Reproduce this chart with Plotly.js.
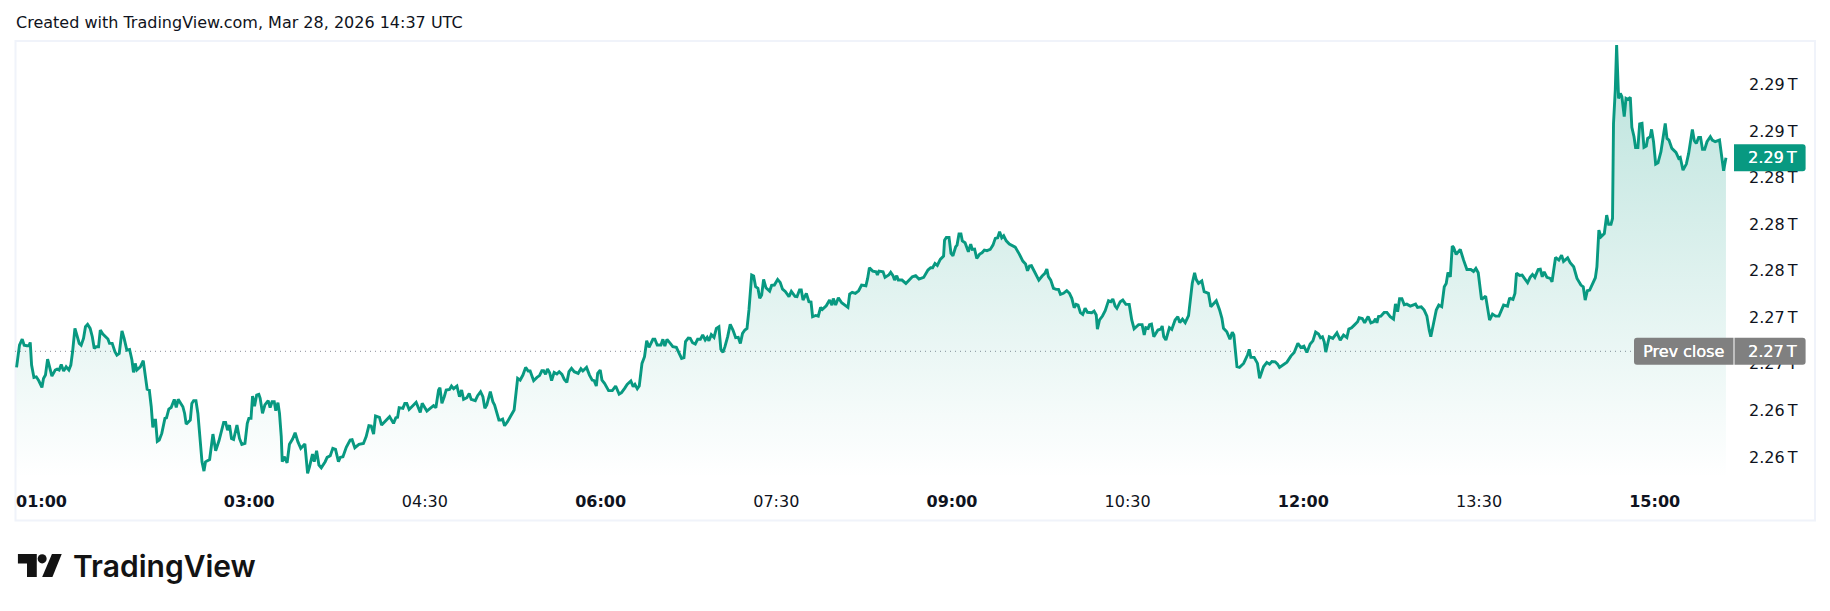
<!DOCTYPE html>
<html>
<head>
<meta charset="utf-8">
<script src="https://cdn.plot.ly/plotly-3.0.1.min.js"></script>
<style>html,body{margin:0;padding:0;background:#fff}#c{width:1830px;height:611px}</style>
</head>
<body>
<div id="c"></div>
<script>
// Minutes since midnight
const minutes = [
60.8,61.6,62.3,63.7,64.7,66.1,67.1,67.8,68.5,69.7,70.9,72.2,73.8,74.6,75.6,76.7,77.7,78.9,80.6,81.6,82.6,83.7,84.9,86.2,87.6,88.6,89.5,90.7,91.7,92.9,93.9,95.1,96.1,97.2,98.5,99.6,100.6,101.6,102.8,103.7,105.0,106.4,107.6,108.4,109.8,111.2,112.2,113.4,114.8,115.9,117.3,118.7,119.9,120.7,121.6,122.4,124.2,125.7,126.9,127.7,128.8,129.8,130.6,131.3,132.0,132.9,133.9,135.2,136.8,137.6,138.8,140.0,141.6,142.6,143.6,145.0,146.0,146.9,147.7,149.8,150.6,151.5,152.7,153.7,154.9,155.8,156.8,157.6,159.7,161.4,162.8,164.5,166.9,167.9,168.9,169.9,170.9,172.0,173.7,175.0,176.2,177.8,179.0,179.8,180.9,181.7,182.7,183.8,184.9,
185.6,186.8,188.0,189.7,190.7,191.7,192.8,193.6,194.7,195.5,196.4,196.9,197.9,199.4,200.6,202.2,203.5,204.9,206.4,208.5,209.9,210.9,212.4,213.3,214.5,215.7,216.9,218.9,219.9,221.5,222.8,224.2,225.7,226.6,228.0,229.7,231.7,232.7,234.1,236.2,238.5,239.9,241.3,242.5,243.7,244.7,246.7,247.8,249.8,251.9,253.9,255.1,256.0,256.8,258.7,259.7,260.7,261.9,263.8,265.5,267.6,268.6,271.0,273.0,274.4,275.6,277.0,277.7,278.7,279.9,280.9,282.6,283.6,284.7,286.4,287.7,288.8,289.8,291.5,292.7,293.7,295.8,297.0,298.5,299.7,300.7,301.7,303.5,304.8,305.7,307.0,307.9,308.9,309.8,310.8,312.3,
315.7,317.5,318.8,320.2,321.6,322.9,323.9,325.7,327.4,328.7,329.9,330.8,331.8,332.8,333.9,334.9,336.2,337.6,338.8,340.2,341.4,342.7,343.8,345.1,346.5,348.5,349.9,350.9,352.8,354.3,355.7,356.7,357.8,358.5,359.8,360.7,362.0,364.1,366.0,367.7,369.5,370.7,372.3,373.6,375.5,376.7,377.6,378.8,379.8,381.2,382.5,383.6,384.8,386.8,387.8,389.0,390.9,391.9,392.9,394.0,395.7,397.0,398.8,400.5,401.5,402.7,403.5,404.9,405.9,407.1,408.5,409.7,411.1,412.3,413.6,414.6,415.5,416.7,418.1,419.3,420.6,421.6,422.7,423.7,425.1,426.4,427.8,429.2,430.5,431.6,432.7,433.9,435.0,436.0,437.4,438.4,439.4,440.6,441.5,
441.8,442.5,443.5,444.7,446.6,447.6,449.0,450.7,452.0,453.2,454.6,456.5,457.7,459.6,460.6,461.9,462.8,463.7,465.4,466.7,467.8,468.6,470.2,471.5,472.7,473.6,475.6,477.3,478.5,479.2,480.4,481.8,483.5,486.7,487.6,488.9,490.5,492.2,493.7,495.9,496.8,497.7,499.4,501.1,501.8,502.6,504.7,505.7,507.6,508.6,509.8,510.6,511.7,512.5,514.4,516.4,518.1,519.7,521.4,523.1,525.5,527.7,529.1,530.1,531.3,532.5,534.0,535.7,536.2,537.1,538.5,539.5,540.5,541.9,542.6,543.6,544.6,545.3,546.7,548.4,549.6,550.4,551.6,552.7,554.2,555.4,556.6,557.9,559.6,561.0,562.2,563.4,564.4,565.5,566.5,567.8,569.4,
572.4,574.5,576.3,577.7,578.7,579.7,580.7,582.1,583.5,584.5,586.2,587.6,588.6,589.4,590.6,592.0,593.4,594.6,595.6,597.1,598.8,600.2,601.4,602.6,603.6,604.6,605.8,607.0,608.2,609.4,611.6,612.8,613.9,614.5,615.6,617.1,618.5,620.2,621.4,622.4,623.6,624.5,626.2,627.5,629.1,630.8,632.1,633.3,635.6,637.4,638.5,639.3,640.5,641.2,642.2,643.4,645.5,647.0,647.7,648.5,649.6,651.4,652.6,654.3,655.7,656.7,658.1,659.5,661.2,662.0,663.1,664.3,665.1,666.3,668.0,669.2,671.4,672.6,674.3,675.4,677.1,678.3,679.1,680.8,682.4,683.6,684.4,686.0,687.3,689.4,691.4,692.3,693.1,694.8,696.5,697.6,
699.6,701.3,702.7,703.9,705.6,706.8,707.8,709.9,711.6,713.6,715.3,717.2,718.7,720.3,721.8,723.5,724.9,726.3,727.8,728.8,729.8,730.7,731.5,733.3,735.1,737.2,738.9,740.6,742.3,743.3,744.7,746.1,747.8,748.6,750.2,751.4,753.2,754.6,756.0,757.0,757.7,758.5,759.7,761.4,762.8,764.5,766.2,767.2,768.3,769.3,770.5,771.7,773.0,774.8,777.5,778.5,780.4,781.9,783.3,784.5,785.3,786.7,788.1,789.4,790.9,792.2,793.2,794.1,795.3,796.3,797.0,798.3,800.4,802.1,803.8,805.8,807.2,808.4,809.6,811.3,813.4,815.4,816.9,818.5,820.2,822.6,824.6,825.7,
826.0,827.4,828.4,829.2,830.8,832.1,833.5,834.9,836.2,837.4,838.6,840.3,841.4,842.4,843.4,844.8,846.5,847.4,849.2,850.9,852.3,853.3,855.4,856.7,858.5,860.2,862.2,863.4,864.4,865.5,866.7,868.2,869.6,870.4,871.4,872.5,874.2,875.4,876.4,877.6,878.4,878.9,879.8,880.5,881.0,881.5,882.4,883.2,884.4,885.3,886.3,887.5,888.3,889.4,890.2,891.4,892.3,893.5,894.5,895.7,896.4,897.7,898.4,899.4,900.5,901.7,903.2,905.4,906.3,907.3,908.8,910.9,912.3,913.1,914.5,916.2,917.4,919.3,920.3,921.3,922.5,923.5,924.5,925.6,926.8,928.5,929.5,931.0,933.2,935.3,936.5
];
// Value in billions
const valuesB = [
2267.70,2269.04,2269.61,2270.13,2269.61,2269.56,2269.56,2269.84,2267.90,2266.84,2266.89,2266.55,2265.98,2266.75,2267.04,2268.41,2267.70,2266.95,2267.47,2267.55,2267.47,2267.95,2267.38,2267.75,2267.47,2267.90,2269.04,2271.05,2270.47,2269.76,2269.61,2270.19,2271.19,2271.39,2271.05,2270.33,2269.33,2269.47,2269.47,2270.90,2270.56,2270.33,2270.13,2269.76,2269.76,2269.04,2268.75,2268.90,2270.84,2270.19,2269.18,2269.24,2268.33,2267.27,2268.04,2267.47,2267.75,2268.27,2266.75,2265.83,2265.75,2264.32,2262.54,2263.17,2263.17,2261.34,2261.45,2262.03,2263.32,2263.37,2264.12,2264.26,2264.95,2264.26,2264.95,2264.52,2264.32,2263.74,2262.83,2263.17,2264.60,2264.83,2264.83,2263.74,2260.88,2259.59,2258.79,2259.59,2259.79,2261.97,2260.54,2261.40,2262.97,2262.97,2262.31,2262.74,2261.60,2261.51,2262.74,2261.60,2261.08,2261.17,2262.89,2263.32,2263.32,2265.23,2264.37,2265.32,2265.38,
2265.04,2263.75,2264.47,2264.84,2264.24,2264.75,2264.75,2263.98,2264.67,2263.75,2261.75,2259.60,2260.03,2259.51,2261.09,2261.55,2262.09,2261.32,2260.75,2261.12,2258.60,2259.17,2260.26,2259.60,2260.54,2259.31,2259.08,2259.60,2259.97,2260.12,2260.75,2260.66,2259.60,2259.97,2260.03,2260.83,2261.46,2261.49,2260.80,2261.09,2261.17,2261.75,2262.69,2262.66,2261.98,2263.52,2263.41,2262.75,2263.12,2263.47,2262.89,2263.38,2263.41,2264.24,2264.18,2264.61,2264.61,2264.09,2264.41,2264.70,2263.84,2264.61,2263.95,2264.18,2264.41,2264.24,2265.76,2265.96,2264.61,2265.18,2265.76,2265.81,2266.10,2265.87,2266.10,2265.18,2265.76,2264.95,2265.10,2265.47,2264.95,2264.84,2265.27,2265.61,2265.18,2264.18,2264.47,2265.61,2264.75,2264.47,2263.61,2263.18,2263.18,2263.26,2262.69,2263.04,
2264.04,2266.76,2266.61,2267.04,2267.70,2267.39,2267.39,2266.56,2266.84,2266.99,2267.41,2267.41,2267.10,2267.56,2267.24,2266.56,2267.27,2267.13,2267.33,2267.10,2266.67,2266.41,2267.33,2267.62,2267.33,2267.19,2267.59,2267.39,2267.70,2267.04,2266.61,2266.56,2266.10,2267.19,2267.47,2266.61,2266.33,2265.70,2265.70,2266.10,2265.41,2265.53,2265.90,2266.24,2266.53,2266.04,2266.24,2265.87,2266.10,2268.04,2268.62,2269.99,2269.42,2270.11,2270.11,2269.62,2269.62,2270.11,2269.53,2270.11,2269.76,2269.48,2269.42,2268.90,2268.47,2268.53,2269.91,2270.22,2270.19,2269.82,2269.71,2270.11,2270.11,2270.48,2270.05,2270.28,2269.99,2270.51,2270.28,2271.05,2271.19,2269.25,2268.99,2269.48,2270.34,2271.39,2270.91,2270.25,2270.28,2269.76,2270.62,2270.91,2271.05,2272.63,2275.63,2275.55,2274.63,2274.49,2273.63,
2273.71,2273.91,2275.25,2274.54,2274.25,2274.74,2274.77,2275.25,2275.00,2274.42,2274.22,2273.77,2274.22,2273.79,2273.77,2274.34,2274.34,2273.48,2274.05,2273.34,2273.31,2272.05,2272.16,2272.10,2272.85,2272.68,2272.99,2273.48,2273.05,2273.62,2273.05,2273.68,2273.25,2272.85,2273.99,2274.14,2274.05,2274.28,2274.77,2274.71,2275.34,2276.26,2275.97,2275.91,2275.63,2275.97,2275.91,2275.43,2275.63,2275.86,2275.57,2275.20,2275.57,2275.20,2275.20,2274.91,2275.25,2275.48,2275.57,2275.28,2275.43,2276.06,2276.26,2276.26,2276.63,2276.46,2276.97,2277.26,2278.63,2278.86,2278.86,2277.49,2277.29,2278.06,2278.20,2279.15,2279.15,2278.57,2278.40,2277.63,2278.29,2277.83,2277.86,2277.06,2277.43,2277.54,2277.77,2277.72,2277.83,2278.20,2278.78,2278.83,2279.35,2278.83,2279.00,2278.57,2278.29,
2278.03,2277.43,2276.83,2276.58,2276.00,2276.40,2276.43,2275.98,2275.43,2275.20,2275.55,2275.77,2276.15,2275.49,2275.20,2274.49,2274.40,2274.40,2273.97,2274.06,2274.29,2274.06,2273.63,2272.83,2273.11,2273.05,2272.40,2272.25,2272.77,2272.43,2272.40,2272.54,2272.20,2270.99,2271.77,2272.11,2272.57,2273.43,2273.34,2273.57,2272.97,2272.77,2273.34,2273.48,2273.11,2273.11,2271.77,2271.02,2271.37,2271.37,2270.48,2271.11,2271.05,2271.37,2271.42,2270.34,2270.91,2270.99,2271.25,2270.34,2270.05,2271.11,2270.96,2271.77,2272.05,2271.54,2271.85,2271.54,2272.14,2273.20,2274.92,2275.83,2275.26,2274.92,2275.12,2274.20,2274.06,2272.91,2273.20,2273.43,2272.63,2271.91,2271.05,2270.76,2270.11,2270.71,2270.48,2267.76,2267.70,2268.04,2268.76,2269.25,2268.56,2268.56,2268.04,2266.76,
2267.75,2268.12,2267.98,2268.21,2268.18,2267.98,2267.69,2267.98,2268.15,2268.67,2268.98,2269.76,2269.41,2269.53,2268.98,2269.70,2269.98,2270.73,2270.56,2270.24,2270.33,2269.90,2269.01,2270.33,2270.19,2270.67,2270.04,2270.47,2270.27,2270.99,2271.10,2271.33,2271.62,2271.96,2271.90,2271.53,2272.07,2271.53,2271.62,2271.87,2271.53,2272.07,2272.10,2272.42,2272.42,2272.05,2271.85,2273.16,2272.48,2273.59,2273.59,2273.08,2273.13,2272.96,2273.13,2272.85,2272.91,2272.62,2272.10,2270.90,2270.33,2271.47,2272.62,2273.05,2272.91,2274.62,2274.91,2275.85,2275.48,2278.12,2278.00,2277.40,2277.83,2276.91,2276.11,2276.11,2275.94,2276.20,2275.83,2273.53,2273.82,2271.76,2272.28,2272.10,2272.10,2273.05,2272.96,2273.68,
2273.62,2273.54,2274.05,2275.80,2275.60,2275.63,2275.25,2274.97,2275.43,2275.68,2275.43,2276.11,2276.14,2275.48,2275.91,2275.43,2275.34,2275.05,2277.14,2276.91,2277.34,2276.80,2277.11,2276.69,2276.34,2275.34,2274.77,2274.62,2273.48,2274.28,2274.34,2274.91,2275.40,2276.34,2279.49,2278.92,2279.20,2280.78,2279.98,2279.98,2280.49,2288.65,2291.52,2295.38,2292.37,2290.80,2291.23,2290.94,2289.23,2290.80,2290.71,2290.89,2288.31,2287.51,2286.59,2286.59,2288.60,2288.65,2286.59,2286.71,2287.36,2287.51,2288.14,2287.08,2285.16,2285.27,2286.22,2288.65,2287.36,2287.22,2286.51,2286.16,2285.65,2285.73,2284.64,2285.16,2286.08,2288.14,2287.16,2286.93,2287.45,2287.45,2286.42,2286.42,2287.08,2287.51,2287.22,2287.08,2287.22,2284.59,2285.70
];
const prevClose = 2269.08;
const lastValue = 2285.70;
const prevLabel = "Prev close";
const lastLabel = "2.29\u2009T";
const prevValueLabel = "2.27\u2009T";
const yTickVals = [2260,2264,2268,2272,2276,2280,2284,2288,2292];
const yTickText = ["2.26","2.26","2.27","2.27","2.28","2.28","2.28","2.29","2.29"].map(s => s + "\u2009T");
const xTickVals = [180,270,360,450,540,630,720,810,900];
const xTickText = ["<b>03:00</b>","04:30","<b>06:00</b>","07:30","<b>09:00</b>","10:30","<b>12:00</b>","13:30","<b>15:00</b>"];
const firstTick = "01:00";

const W = 1830, H = 611, L = 15, R = 90, T = 41, B = 133;
const PW = W - L - R, PH = H - T - B;
const px = x => (x - L) / PW;
const py = y => 1 - (y - T) / PH;
const FONT = "DejaVu Sans";
const GREEN = "#089981", GREY = "#808080";
const INK = "#0f1320";

function tag(x0, x1, anchorY, h, color, rl, rr) {
  const hh = h / 2, w = x1 - x0;
  return {type:"path", layer:"above", xref:"paper", yref:"y", x0:0, y0:0,
    xsizemode:"pixel", ysizemode:"pixel", xanchor:px(x0), yanchor:anchorY,
    fillcolor:color, line:{width:0},
    path:`M${rl},${-hh} L${w-rr},${-hh} Q${w},${-hh} ${w},${-hh+rr} L${w},${hh-rr} Q${w},${hh} ${w-rr},${hh} L${rl},${hh} Q0,${hh} 0,${hh-rl} L0,${-hh+rl} Q0,${-hh} ${rl},${-hh} Z`};
}
const logo = 'data:image/svg+xml;utf8,' + encodeURIComponent(
 '<svg xmlns="http://www.w3.org/2000/svg" viewBox="0 0 46 24" width="46" height="24">' +
 '<path fill="#131313" d="M0 0H19.5V23H9.5V9.5H0Z"/><circle cx="25" cy="4.8" r="4.6" fill="#131313"/>' +
 '<path fill="#131313" d="M35 0H45L35.5 23H25Z"/></svg>');

const traces = [{
  x: minutes, y: valuesB, type:"scatter", mode:"lines",
  line:{color:GREEN, width:2.9, shape:"linear"},
  fill:"tozeroy",
  fillgradient:{type:"vertical", start:2295.4, stop:2258.2,
    colorscale:[[0,"rgba(8,153,129,0.28)"],[1,"rgba(8,153,129,0)"]]},
  hoverinfo:"skip", showlegend:false
}];

const layout = {
  width:W, height:H, paper_bgcolor:"#fff", plot_bgcolor:"#fff",
  margin:{l:L, r:R, t:T, b:B, pad:0},
  showlegend:false, font:{family:FONT, color:INK, size:16},
  xaxis:{range:[60,943.7], tickvals:xTickVals, ticktext:xTickText, showgrid:false, zeroline:false,
    showline:false, ticks:"", ticklen:0, tickangle:0, ticklabelstandoff:12, tickfont:{family:FONT,size:16,color:INK}, automargin:false},
  yaxis:{side:"right", range:[2258.2,2295.73], tickvals:yTickVals, ticktext:yTickText, showgrid:false, zeroline:false,
    showline:false, ticks:"", ticklen:0, ticklabelstandoff:8, tickfont:{family:FONT,size:16,color:INK}, automargin:false},
  shapes:[
    {type:"rect", layer:"below", xref:"paper", yref:"paper", x0:px(15.5), x1:px(1815), y0:py(41), y1:py(520.5),
      line:{color:"#f0f3fa", width:2}, fillcolor:"rgba(0,0,0,0)"},
    {type:"line", layer:"between", xref:"x", yref:"y", x0:60, x1:60+(1634-15)/1.952, y0:prevClose, y1:prevClose,
      line:{color:"#8a8e99", width:1, dash:"1px,4px"}},
    tag(1634,1733.5,prevClose,27,GREY,3,0),
    tag(1734.5,1805.6,prevClose,27,GREY,0,3),
    tag(1734,1805.6,lastValue,27,GREEN,0,3)
  ],
  annotations:[
    {text:"Created with TradingView.com, Mar 28, 2026 14:37 UTC", xref:"paper", yref:"paper", x:px(14), y:py(22.5),
      xanchor:"left", yanchor:"middle", showarrow:false, font:{family:FONT,size:16,color:INK}},
    {text:"<b>"+firstTick+"</b>", xref:"paper", yref:"paper", x:px(14), y:py(501),
      xanchor:"left", yanchor:"middle", showarrow:false, font:{family:FONT,size:16,color:INK}},
    {text:prevLabel, xref:"paper", yref:"y", x:px(1683.5), y:prevClose, xanchor:"center", yanchor:"middle",
      showarrow:false, font:{family:FONT,size:16,color:"#fff",shadow:"0.3px 0 0 #fff"}},
    {text:prevValueLabel, xref:"paper", yref:"y", x:px(1772), y:prevClose, xanchor:"center", yanchor:"middle",
      showarrow:false, font:{family:FONT,size:16,color:"#fff",shadow:"0.3px 0 0 #fff"}},
    {text:lastLabel, xref:"paper", yref:"y", x:px(1772), y:lastValue, xanchor:"center", yanchor:"middle",
      showarrow:false, font:{family:FONT,size:16,color:"#fff",shadow:"0.3px 0 0 #fff"}},
    {text:"TradingView", xref:"paper", yref:"paper", x:px(70.5), y:py(566), xanchor:"left", yanchor:"middle",
      showarrow:false, font:{family:"Inter",size:30,weight:600,color:"#131313"}}
  ],
  images:[{source:logo, xref:"paper", yref:"paper", x:px(17.7), y:py(554), sizex:45/PW, sizey:24/PH,
    xanchor:"left", yanchor:"top", sizing:"stretch", layer:"above"}]
};
Plotly.newPlot("c", traces, layout, {staticPlot:true, displayModeBar:false});
</script>
</body>
</html>
